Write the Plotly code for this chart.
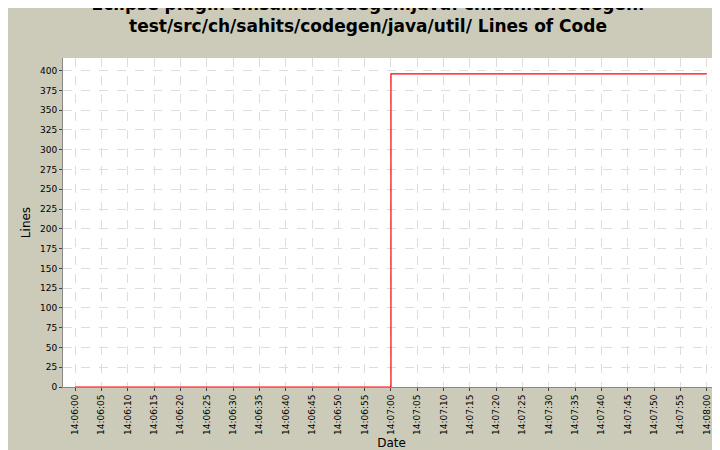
import plotly.graph_objects as go

# step series: lines of code over time
datas = ["2000-01-01 14:06:00", "2000-01-01 14:07:00", "2000-01-01 14:08:00"]
linhas = [0, 396, 396]

tick_vals = ["2000-01-01 14:%02d:%02d" % (6 + s // 60, s % 60) for s in range(0, 121, 5)]
tick_text = ["14:%02d:%02d" % (6 + s // 60, s % 60) for s in range(0, 121, 5)]

fig = go.Figure()
fig.add_trace(go.Scatter(
    x=datas, y=linhas, mode="lines", line_shape="hv",
    line=dict(color="red", width=1.2), showlegend=False
))

grade = dict(showgrid=True, gridcolor="#dddddd", griddash="dash", gridwidth=1)
fig.update_layout(
    width=720, height=450,
    paper_bgcolor="#cccbb9", plot_bgcolor="white",
    font=dict(family="DejaVu Sans", size=10, color="black"),
    title=dict(text="<b>Eclipse plugin ch.sahits.codegen.java: ch.sahits.codegen.<br>test/src/ch/sahits/codegen/java/util/ Lines of Code</b>",
               x=0.5, xanchor="center", y=0.995, yref="container", yanchor="top",
               automargin=False, font=dict(size=17)),
    margin=dict(l=55, r=8, t=50, b=71, autoexpand=False),
    xaxis=dict(title=dict(text="Date", font=dict(size=12), standoff=4),
               range=["2000-01-01 14:05:57.7", "2000-01-01 14:08:02.5"],
               tickvals=tick_vals, ticktext=tick_text, tickangle=-90,
               tickfont=dict(size=9), ticks="outside", ticklen=3, automargin=False,
               showline=True, linecolor="#888888", zeroline=False, **grade),
    yaxis=dict(title=dict(text="Lines", font=dict(size=12), standoff=6),
               range=[0, 416], dtick=25, tickfont=dict(size=9),
               ticks="outside", ticklen=3, automargin=False,
               showline=True, linecolor="#888888", zeroline=False, **grade),
)

fig.write_html("out.html")
